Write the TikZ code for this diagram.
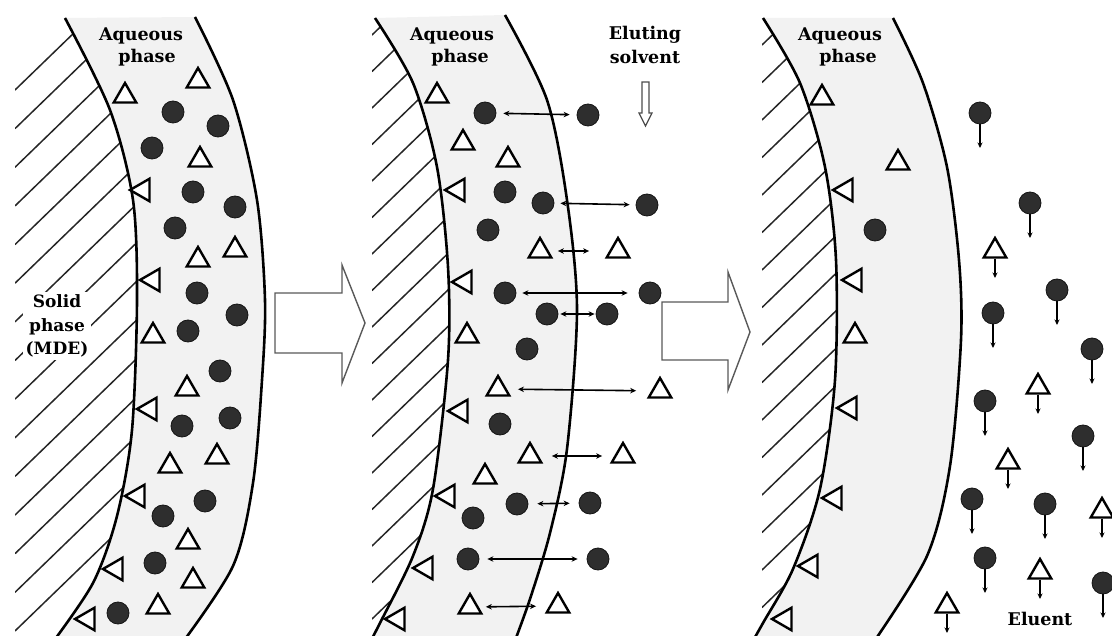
\documentclass[tikz,border=0pt]{standalone}
\usepackage{fontspec}
\setmainfont{DejaVu Serif}
\usetikzlibrary{shapes.geometric,arrows.meta}
\begin{document}
\begin{tikzpicture}[x=1pt,y=-1pt,
  curve/.style={line width=2.6pt, black},
  hatchline/.style={line width=1.5pt, black!85},
  aq/.style={fill=black!5},
  mol/.style={circle, fill=black!82, draw=black!92, line width=0.8pt, minimum size=22pt, inner sep=0pt},
  tri/.style={regular polygon, regular polygon sides=3, draw=black, line width=2.4pt, fill=white, minimum size=26pt, inner sep=0pt},
  ltri/.style={tri, shape border rotate=90},
  lbl/.style={font=\bfseries\fontsize{17.5}{20}\selectfont, inner sep=1pt},
  dbl/.style={line width=1.6pt, {Stealth[length=6pt,width=5.5pt]}-{Stealth[length=6pt,width=5.5pt]}},
  fall/.style={line width=1.7pt, -{Stealth[length=5.5pt,width=5pt]}},
  bigarrow/.style={draw=black!65, line width=1.4pt, fill=white}
]
\useasboundingbox (0,0) rectangle (1112,636);
\clip (0,0) rectangle (1112,636);

% ---------------- Panel 1 ----------------
\fill[aq] plot[smooth] coordinates {(65,18) (110,110) (133,200) (137,300) (132,430) (117,516) (93,583) (50,646)}
  -- plot[smooth] coordinates {(180,646) (233,566) (253,483) (262,380) (265,300) (257,200) (233,100) (195,17)} -- cycle;
\begin{scope}
  \clip (15,18) -- plot[smooth] coordinates {(65,18) (110,110) (133,200) (137,300) (132,430) (117,516) (93,583) (50,646)} -- (15,646) -- cycle;
  \foreach \y in {90,128.64,...,640} \draw[hatchline] (15,\y) -- ++(250,-242);
\end{scope}
\draw[curve] plot[smooth] coordinates {(65,18) (110,110) (133,200) (137,300) (132,430) (117,516) (93,583) (50,646)};
\draw[curve] plot[smooth] coordinates {(195,17) (233,100) (257,200) (265,300) (262,380) (253,483) (233,566) (180,646)};

\node[lbl, anchor=base] (aq1a) at (141,41) {Aqueous};
\node[lbl, anchor=base] (aq1b) at (147,63) {phase};
\node[lbl, fill=white, align=center, font=\bfseries\fontsize{17}{23.5}\selectfont, inner sep=3pt] (solid) at (57,326) {Solid\\phase\\(MDE)};

\foreach \x/\y [count=\i] in {125/93, 198/78, 200/157, 235/247, 198/257, 153/333, 187/386, 217/454, 170/463, 188/539, 193/578, 158/604}
  \node[tri] (pa-t\i) at (\x,\y+3) {};
\foreach \x/\y [count=\i] in {140/190, 150/280, 147/409, 135/496, 113/569, 85/619}
  \node[ltri] (pa-l\i) at (\x+3,\y) {};
\foreach \x/\y [count=\i] in {173/112, 218/126, 152/148, 193/192, 235/207, 175/228, 197/293, 237/315, 188/331, 220/371, 182/426, 230/418, 205/501, 163/516, 155/563, 118/613}
  \node[mol] (pa-c\i) at (\x,\y) {};

% big arrow 1
\draw[bigarrow] (275,293) -- (342,293) -- (342,265) -- (365,323) -- (342,383) -- (342,353) -- (275,353) -- cycle;

% ---------------- Panel 2 ----------------
\fill[aq] plot[smooth] coordinates {(375,18) (413,83) (437,167) (448,267) (448,360) (433,489) (413,556) (380,623) (368,646)}
  -- plot[smooth] coordinates {(513,646) (530,599) (550,533) (567,449) (577,310) (567,200) (547,100) (505,15)} -- cycle;
\begin{scope}
  \clip (372,18) -- plot[smooth] coordinates {(375,18) (413,83) (437,167) (448,267) (448,360) (433,489) (413,556) (380,623) (368,646)} -- (372,646) -- cycle;
  \foreach \y in {35,71.5,...,660} \draw[hatchline] (372,\y) -- ++(250,-242);
\end{scope}
\draw[curve] plot[smooth] coordinates {(375,18) (413,83) (437,167) (448,267) (448,360) (433,489) (413,556) (380,623) (368,646)};
\draw[curve] plot[smooth] coordinates {(505,15) (547,100) (567,200) (577,310) (567,449) (550,533) (530,599) (513,646)};

\node[lbl, anchor=base] (aq2a) at (452,41) {Aqueous};
\node[lbl, anchor=base] (aq2b) at (460,63) {phase};
\node[lbl, anchor=base] (elu1) at (645,40) {Eluting};
\node[lbl, anchor=base] (elu2) at (645,64) {solvent};
\draw[draw=black!70, line width=1.2pt, fill=white] (642,82) -- (642,113) -- (639,113) -- (645.5,126) -- (652,113) -- (649,113) -- (649,82) -- cycle;

\foreach \x/\y [count=\i] in {437/93, 463/140, 508/157, 467/333, 485/474}
  \node[tri] (pb-t\i) at (\x,\y+3) {};
\foreach \x/\y [count=\i] in {455/190, 462/282, 458/411, 445/496, 423/568, 395/619}
  \node[ltri] (pb-l\i) at (\x+3,\y) {};
\foreach \x/\y [count=\i] in {505/192, 488/230, 527/349, 500/424, 473/518}
  \node[mol] (pb-c\i) at (\x,\y) {};

% exchanging pairs: inner/outer, shorten left/right
\foreach \n/\xa/\ya/\xb/\yb/\sa/\sb in {a/485/113/588/115/7/7, b/543/203/647/205/6/6, c/505/293/650/293/6/11, d/547/314/607/314/2/1, e/517/504/590/503/9/9, f/468/559/598/559/8/9}{
  \node[mol] (pc-\n) at (\xa,\ya) {};
  \node[mol] (pC-\n) at (\xb,\yb) {};
  \draw[dbl, shorten <=\sa pt, shorten >=\sb pt] (pc-\n) -- (pC-\n);
}
\foreach \n/\xa/\ya/\xb/\yb/\sa/\sb in {a/540/248/618/248/9/20, b/498/386/660/388/11/15, c/530/453/623/453/13/12, d/470/604/558/603/7/13}{
  \node[tri] (pt-\n) at (\xa,\ya+3) {};
  \node[tri] (pT-\n) at (\xb,\yb+3) {};
  \draw[dbl, shorten <=\sa pt, shorten >=\sb pt] (pt-\n) -- (pT-\n);
}

% big arrow 2
\draw[bigarrow] (662,302) -- (728,302) -- (728,272) -- (750,332) -- (728,390) -- (728,360) -- (662,360) -- cycle;

% ---------------- Panel 3 ----------------
\fill[aq] plot[smooth] coordinates {(763,18) (800,83) (825,167) (836,260) (835,380) (820,489) (793,569) (763,623) (750,646)}
  -- plot[smooth] coordinates {(871,646) (927,556) (950,466) (961,340) (959,260) (947,167) (923,83) (893,18)} -- cycle;
\begin{scope}
  \clip (762,18) -- plot[smooth] coordinates {(763,18) (800,83) (825,167) (836,260) (835,380) (820,489) (793,569) (763,623) (750,646)} -- (762,646) -- cycle;
  \foreach \y in {45,82.5,...,660} \draw[hatchline] (762,\y) -- ++(250,-242);
\end{scope}
\draw[curve] plot[smooth] coordinates {(763,18) (800,83) (825,167) (836,260) (835,380) (820,489) (793,569) (763,623) (750,646)};
\draw[curve] plot[smooth] coordinates {(893,18) (923,83) (947,167) (959,260) (961,340) (950,466) (927,556) (871,646)};

\node[lbl, anchor=base] (aq3a) at (840,41) {Aqueous};
\node[lbl, anchor=base] (aq3b) at (848,63) {phase};

\foreach \x/\y [count=\i] in {822/95, 898/160, 855/333}
  \node[tri] (pd-t\i) at (\x,\y+3) {};
\foreach \x/\y [count=\i] in {843/190, 852/280, 847/408, 832/498, 808/566, 782/619}
  \node[ltri] (pd-l\i) at (\x+3,\y) {};
\node[mol] (pd-c1) at (875,230) {};

\foreach \x/\y [count=\i] in {980/113, 1030/203, 1057/290, 993/313, 1092/349, 985/401, 1083/436, 972/499, 1045/504, 985/558, 1103/583}{
  \node[mol] (pe-c\i) at (\x,\y) {};
  \coordinate (pe-ce\i) at (\x,\y+35);
  \draw[fall] (pe-c\i) -- (pe-ce\i);
}
\foreach \x/\y [count=\i] in {995/248, 1038/384, 1008/459, 1102/508, 1040/569, 947/603}{
  \node[tri] (pe-t\i) at (\x,\y+3) {};
  \coordinate (pe-te\i) at (\x,\y+30);
  \draw[fall] (pe-t\i.south) -- (pe-te\i);
}
\node[lbl, anchor=base] (eluent) at (1040,625) {Eluent};
\end{tikzpicture}
\end{document}
